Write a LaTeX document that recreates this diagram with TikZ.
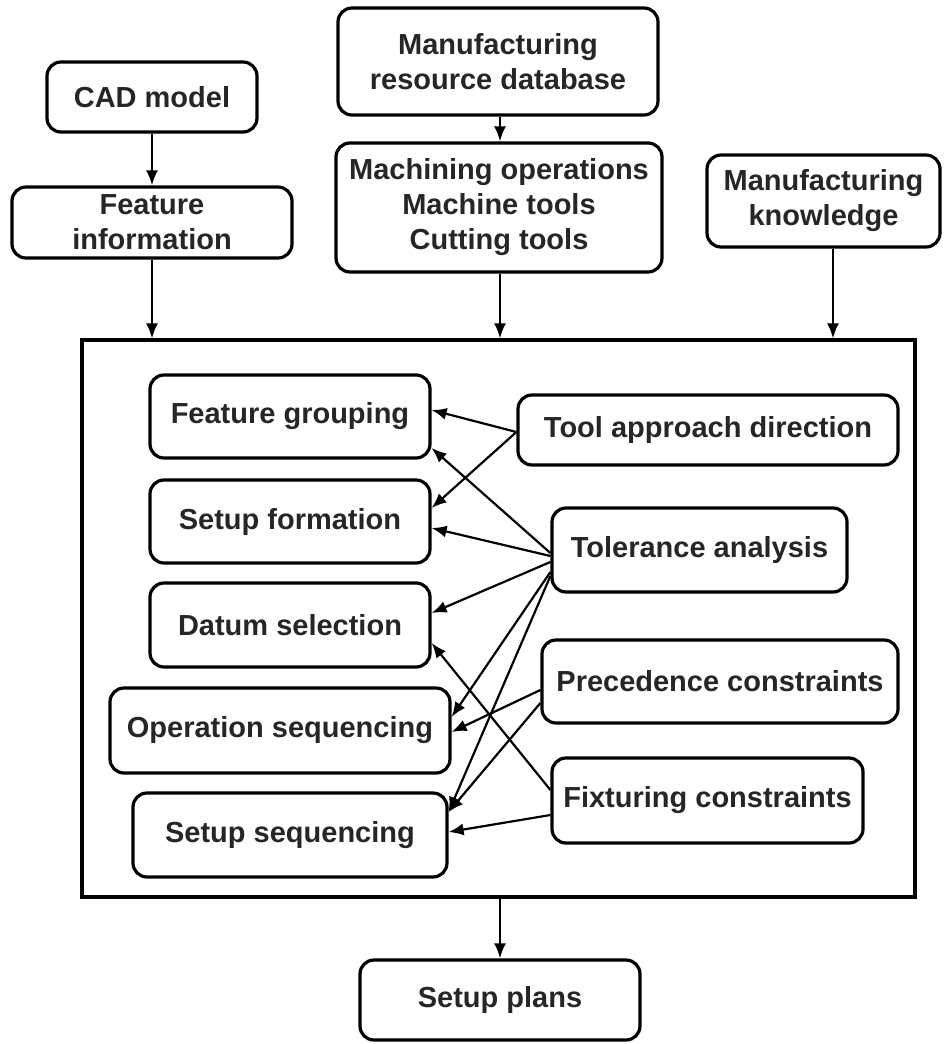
\documentclass[tikz,border=0pt]{standalone}
\usepackage{fontspec}
\setmainfont{Liberation Sans}
\usepackage{tikz}
\usetikzlibrary{arrows.meta, positioning, calc}
\definecolor{planink}{HTML}{262626}

\begin{document}
\begin{tikzpicture}[
        x=0.5pt, y=-0.5pt,
        box/.style={draw, line width=1.6pt, rounded corners=7pt, align=center, inner sep=2pt, text=planink, font=\bfseries\fontsize{14.5}{17.5}\selectfont},
        frame/.style={draw, line width=1.6pt, inner sep=0pt},
        arrow/.style={-{Latex[length=7.5pt,width=6pt]}, line width=1.1pt}
    ]
        \useasboundingbox (0,0) rectangle (943,1044);

        % inputs
        \node (cad) [box, minimum width=105pt, minimum height=35pt] at (152,97) {CAD model};
        \node (featinfo) [box, minimum width=140pt, minimum height=35.5pt] at (152,222.5) {Feature\\information};
        \node (resdb) [box, minimum width=160pt, minimum height=53.5pt] at (498,61.5) {Manufacturing\\resource database};
        \node (machres) [box, minimum width=163pt, minimum height=64.5pt] at (499,207.5) {Machining operations\\Machine tools\\Cutting tools};
        \node (knowledge) [box, minimum width=116.5pt, minimum height=46pt] at (823.5,201) {Manufacturing\\knowledge};

        % planning frame
        \node (core) [frame, minimum width=416.5pt, minimum height=278.5pt] at (498.5,618.5) {};

        \node (fgroup) [box, minimum width=140pt, minimum height=41.5pt] at (290,416.5) {Feature grouping};
        \node (sform) [box, minimum width=140pt, minimum height=41.5pt] at (290,521.5) {Setup formation};
        \node (datum) [box, minimum width=140pt, minimum height=42pt] at (290,625) {Datum selection};
        \node (opseq) [box, minimum width=170pt, minimum height=42.5pt] at (280,730.5) {Operation sequencing};
        \node (setseq) [box, minimum width=157pt, minimum height=42pt] at (290,835) {Setup sequencing};

        \node (tool) [box, minimum width=190pt, minimum height=35pt] at (708,430) {Tool approach direction};
        \node (tol) [box, minimum width=147.5pt, minimum height=42pt] at (699.5,550) {Tolerance analysis};
        \node (prec) [box, minimum width=178pt, minimum height=41.5pt] at (720,681.5) {Precedence constraints};
        \node (fix) [box, minimum width=155.5pt, minimum height=42.5pt] at (707.5,800.5) {Fixturing constraints};

        % output
        \node (plans) [box, minimum width=140pt, minimum height=40pt] at (500,1000) {Setup plans};

        \draw [arrow] (cad) -- (featinfo);
        \draw [arrow] (resdb.south -| 500,0) -- (machres.north -| 500,0);
        \draw [arrow] (featinfo.south) -- (featinfo.south |- core.north);
        \draw [arrow] (machres.south -| 500,0) -- (core.north -| 500,0);
        \draw [arrow] (knowledge.south -| 833,0) -- (core.north -| 833,0);
        \draw [arrow] (core.south -| plans.north) -- (plans.north);

        \draw [arrow] ([yshift=-1pt]tool.west) -- ([yshift=3.25pt]fgroup.east);
        \draw [arrow] ([yshift=-1pt]tool.west) -- ([yshift=6.75pt]sform.east);

        \draw [arrow] ([yshift=-1.5pt]tol.west) -- ([yshift=-15.75pt]fgroup.east);
        \draw [arrow] ([yshift=-3pt]tol.west) -- ([yshift=-3.25pt]sform.east);
        \draw [arrow] ([yshift=-6pt]tol.west) -- ([yshift=6pt]datum.east);
        \draw [arrow] ([yshift=-11pt]tol.west) -- ([yshift=6.75pt]opseq.east);
        \draw [arrow] ([yshift=-13pt]tol.west) -- ([yshift=11.5pt]setseq.east);

        \draw [arrow] ([yshift=-4.25pt]prec.west) -- ([yshift=-0.75pt]opseq.east);
        \draw [arrow] ([yshift=-10.75pt]prec.west) -- ([yshift=11.5pt]setseq.east);

        \draw [arrow] ([yshift=5.25pt]fix.west) -- ([yshift=-9pt]datum.east);
        \draw [arrow] ([yshift=-7.25pt]fix.west) -- ([yshift=1.5pt]setseq.east);
    \end{tikzpicture}
\end{document}
